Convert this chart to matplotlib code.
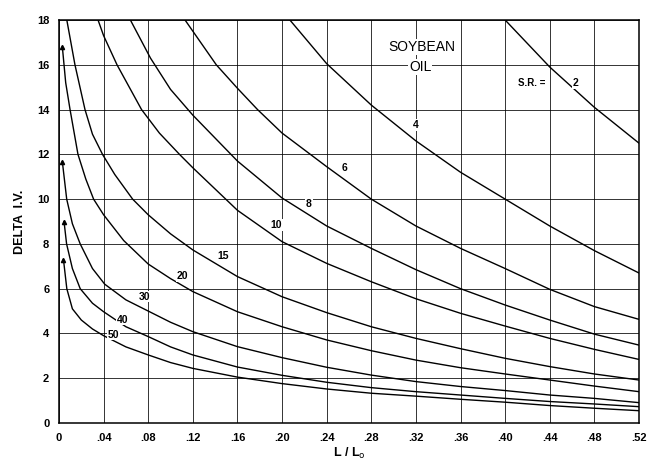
import matplotlib
matplotlib.use("Agg")
import matplotlib.pyplot as plt
import numpy as np

# curves, one per S.R. value
x_sr2 = [0.400, 0.44, 0.48, 0.52]
y_sr2 = [18.0, 15.9, 14.1, 12.5]

x_sr4 = [0.207, 0.24, 0.28, 0.32, 0.36, 0.40, 0.44, 0.48, 0.52]
y_sr4 = [18.0, 16.05, 14.2, 12.6, 11.2, 10.0, 8.8, 7.7, 6.7]

x_sr6 = [0.113, 0.141, 0.16, 0.178, 0.20, 0.24, 0.28, 0.32, 0.36, 0.40, 0.44, 0.48, 0.52]
y_sr6 = [18.0, 16.0, 14.95, 14.0, 12.95, 11.45, 10.0, 8.8, 7.8, 6.9, 5.97, 5.2, 4.63]

x_sr8 = [0.064, 0.082, 0.10, 0.12, 0.16, 0.20, 0.24, 0.28, 0.32, 0.36, 0.40, 0.44, 0.48, 0.52]
y_sr8 = [18.0, 16.3, 14.9, 13.75, 11.7, 10.05, 8.8, 7.8, 6.85, 6.0, 5.27, 4.6, 3.97, 3.48]

x_sr10 = [0.035, 0.04, 0.052, 0.074, 0.09, 0.108, 0.12, 0.16, 0.20, 0.24, 0.28, 0.32, 0.36, 0.40, 0.44, 0.48, 0.52]
y_sr10 = [18.0, 17.3, 16.0, 14.0, 12.95, 12.0, 11.4, 9.5, 8.1, 7.13, 6.31, 5.55, 4.9, 4.33, 3.78, 3.29, 2.84]

x_sr15 = [0.007, 0.0143, 0.0233, 0.03, 0.039, 0.05, 0.066, 0.08, 0.10, 0.12, 0.16, 0.20, 0.24, 0.28, 0.32, 0.36, 0.40, 0.44, 0.48, 0.52]
y_sr15 = [18.0, 16.0, 14.0, 12.9, 12.0, 11.1, 10.0, 9.3, 8.45, 7.73, 6.54, 5.64, 4.93, 4.30, 3.78, 3.32, 2.89, 2.52, 2.19, 1.92]

x_sr20 = [0.003, 0.006, 0.0099, 0.017, 0.024, 0.031, 0.04, 0.058, 0.08, 0.10, 0.12, 0.16, 0.20, 0.24, 0.28, 0.32, 0.36, 0.40, 0.44, 0.48, 0.52]
y_sr20 = [16.8, 15.2, 14.0, 12.0, 10.9, 10.0, 9.3, 8.15, 7.1, 6.45, 5.87, 4.97, 4.30, 3.71, 3.23, 2.81, 2.47, 2.19, 1.92, 1.65, 1.40]

x_sr30 = [0.003, 0.0069, 0.012, 0.019, 0.03, 0.041, 0.06, 0.08, 0.10, 0.12, 0.16, 0.20, 0.24, 0.28, 0.32, 0.36, 0.40, 0.44, 0.48, 0.52]
y_sr30 = [11.67, 10.0, 8.9, 8.0, 6.9, 6.2, 5.5, 5.0, 4.5, 4.08, 3.41, 2.92, 2.49, 2.14, 1.85, 1.63, 1.45, 1.25, 1.10, 0.91]

x_sr40 = [0.0045, 0.0068, 0.012, 0.019, 0.03, 0.04, 0.06, 0.08, 0.10, 0.12, 0.16, 0.20, 0.24, 0.28, 0.32, 0.36, 0.40, 0.44, 0.48, 0.52]
y_sr40 = [9.0, 8.0, 6.9, 6.0, 5.35, 4.97, 4.3, 3.86, 3.4, 3.04, 2.50, 2.13, 1.82, 1.58, 1.40, 1.25, 1.10, 0.96, 0.85, 0.73]

x_sr50 = [0.004, 0.007, 0.012, 0.02, 0.03, 0.04, 0.06, 0.08, 0.10, 0.12, 0.16, 0.20, 0.24, 0.28, 0.32, 0.36, 0.40, 0.44, 0.48, 0.52]
y_sr50 = [7.3, 6.0, 5.1, 4.6, 4.2, 3.9, 3.4, 3.04, 2.7, 2.44, 2.05, 1.76, 1.52, 1.33, 1.20, 1.06, 0.93, 0.78, 0.66, 0.55]

sr_labels = ["2", "4", "6", "8", "10", "15", "20", "30", "40", "50"]
label_pos = [(0.463, 15.2), (0.32, 13.3), (0.256, 11.4), (0.224, 9.8), (0.195, 8.85),
             (0.147, 7.45), (0.111, 6.55), (0.077, 5.65), (0.057, 4.62), (0.049, 3.95)]

curves = [(x_sr2, y_sr2), (x_sr4, y_sr4), (x_sr6, y_sr6), (x_sr8, y_sr8), (x_sr10, y_sr10),
          (x_sr15, y_sr15), (x_sr20, y_sr20), (x_sr30, y_sr30), (x_sr40, y_sr40), (x_sr50, y_sr50)]

x_ticks = np.arange(0, 0.5201, 0.04)
x_ticklabels = ["0", ".04", ".08", ".12", ".16", ".20", ".24", ".28", ".32", ".36", ".40", ".44", ".48", ".52"]
y_ticks = np.arange(0, 18.01, 2)

plt.rcParams['font.family'] = ['Liberation Sans', 'DejaVu Sans']

fig = plt.figure(figsize=(6.47, 4.61), dpi=100)
ax = fig.add_axes([0.0912, 0.0824, 0.8964, 0.8742])

for i, (xs, ys) in enumerate(curves):
    ax.plot(xs, ys, color="black", lw=1.0, zorder=3)
    if ys[0] < 17.9:
        # small arrowhead where the curve stops below the top
        ax.plot(xs[0], ys[0], marker="^", ms=3, color="black", zorder=3)

for lab, (lx, ly) in zip(sr_labels, label_pos):
    ax.text(lx, ly, lab, fontsize=7.5, fontweight="bold", ha="center", va="center", zorder=4,
            bbox=dict(facecolor="white", edgecolor="none", pad=0.6))

ax.text(0.424, 15.2, "S.R. =", fontsize=7, fontweight="bold", ha="center", va="center", zorder=4,
        bbox=dict(facecolor="white", edgecolor="none", pad=0.6))
ax.text(0.325, 16.8, "SOYBEAN", fontsize=10, ha="center", va="center", zorder=4,
        bbox=dict(facecolor="white", edgecolor="none", pad=0.5))
ax.text(0.324, 15.9, "OIL", fontsize=10, ha="center", va="center", zorder=4,
        bbox=dict(facecolor="white", edgecolor="none", pad=0.5))

ax.set_xlim(0, 0.52)
ax.set_ylim(0, 18)
ax.set_xticks(x_ticks)
ax.set_xticklabels(x_ticklabels)
ax.set_yticks(y_ticks)
ax.tick_params(length=0, pad=7, labelsize=8)
for t in ax.get_xticklabels() + ax.get_yticklabels():
    t.set_fontweight("bold")
ax.grid(True, color="black", lw=0.7, alpha=0.8)
ax.set_axisbelow(True)
for s in ax.spines.values():
    s.set_linewidth(1.1)

ax.set_xlabel("L / L$_\\mathrm{o}$", fontsize=9, fontweight="bold", labelpad=2)
ax.set_ylabel("DELTA  I.V.", fontsize=9, fontweight="bold", labelpad=8)

fig.savefig("out.png", dpi=100)
